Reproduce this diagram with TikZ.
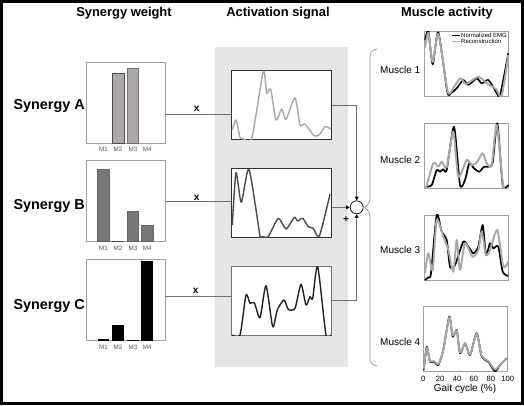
\documentclass[tikz,border=0pt]{standalone}
\usepackage{fontspec}
\setmainfont{Liberation Sans}
\usetikzlibrary{arrows.meta}
\definecolor{panel}{HTML}{E6E6E6}
\definecolor{barA}{HTML}{ADA8A8}
\definecolor{barB}{HTML}{777777}
\definecolor{boxG}{HTML}{A0A0A0}
\definecolor{connG}{HTML}{707070}
\definecolor{recon}{HTML}{A8A8A8}
\definecolor{actA}{HTML}{A8A8A8}
\definecolor{actB}{HTML}{4A4A4A}
\definecolor{actC}{HTML}{222222}
\definecolor{lblG}{HTML}{555555}
\begin{document}
\begin{tikzpicture}[x=1pt,y=-1pt,
  title/.style={font=\bfseries\fontsize{12.9}{14}\selectfont},
  synlabel/.style={font=\bfseries\fontsize{14.4}{16}\selectfont, anchor=west},
  wbox/.style={draw=boxG, line width=0.8pt, fill=white, minimum width=79pt, minimum height=81pt, inner sep=0pt},
  abox/.style={draw=#1, line width=0.9pt, fill=white, minimum width=100pt, minimum height=69pt, inner sep=0pt},
  mbox/.style={draw=boxG, line width=0.8pt, fill=white, minimum width=84pt, minimum height=65pt, inner sep=0pt},
  mlabel/.style={font=\fontsize{6.3}{7}\selectfont, text=lblG, inner sep=0pt},
  musname/.style={font=\fontsize{10}{12}\selectfont, anchor=west, inner sep=0pt},
  conn/.style={draw=connG, line width=0.7pt},
  arr/.style={conn, -{Triangle[length=3.8pt,width=3.8pt,color=black]}},
  bar/.style={line width=0.7pt},
  timesl/.style={font=\bfseries\fontsize{10}{12}\selectfont, inner sep=0pt},
  emg/.style={line width=1.7pt, black, line join=round},
  rec/.style={line width=1.9pt, recon, line join=round},
  act/.style={line width=1.4pt, line join=round, #1},
  tick/.style={font=\fontsize{7.6}{9}\selectfont, inner sep=0pt}
]
\useasboundingbox (0,0) rectangle (524,405);
\fill[white] (0,0) rectangle (524,405);
\draw[line width=3pt] (1.5,1.5) rectangle (522.5,403.5);

% titles
\node[title] (t1) at (124,13) {Synergy weight};
\node[title] (t2) at (278,13) {Activation signal};
\node[title] (t3) at (447,13) {Muscle activity};

% synergy labels
\node[synlabel] (sA) at (10,105.7) {Synergy A};
\node[synlabel] (sB) at (10,205.7) {Synergy B};
\node[synlabel] (sC) at (10,305.7) {Synergy C};

% weight boxes
\node[wbox] (wA) at (125.5,102.5) {};
\node[wbox] (wB) at (125.5,201.3) {};
\node[wbox] (wC) at (125.5,300.3) {};

% bars A
\filldraw[bar, fill=barA, draw=black!70] (112,143) rectangle (124,73.3);
\filldraw[bar, fill=barA, draw=black!55] (127,143) rectangle (138.7,68.3);
% bars B
\filldraw[bar, fill=barB, draw=black!60] (97.7,241.7) rectangle (109.3,169);
\draw[bar, draw=black!70] (112,241.2) -- (124,241.2);
\filldraw[bar, fill=barB, draw=black!60] (127,241.7) rectangle (138.7,211);
\filldraw[bar, fill=barB, draw=black!60] (141.3,241.7) rectangle (153.3,225.7);
% bars C
\fill[black] (97.7,340.7) rectangle (109.3,338.8);
\fill[black] (112,340.7) rectangle (124.3,325.3);
\draw[bar, black] (127,340.3) -- (138.7,340.3);
\fill[black] (141.3,340.7) rectangle (153.3,261);

% M labels
\foreach \yy/\n in {149/a,248.3/b,347.7/c}{
  \node[mlabel] (m1\n) at (103.5,\yy) {M1};
  \node[mlabel] (m2\n) at (118,\yy) {M2};
  \node[mlabel] (m3\n) at (133,\yy) {M3};
  \node[mlabel] (m4\n) at (147.3,\yy) {M4};
}

% activation panel
\fill[panel] (215,47.3) rectangle (348.3,366.7);
\node[abox=black!80] (aA) at (281.7,105) {};
\node[abox=black!80] (aB) at (281.7,202.8) {};
\node[abox=black!55] (aC) at (281.7,300.7) {};

% activation curves
\begin{scope}
\clip (aA.south west) rectangle (aA.north east);
\draw[act=actA] plot[smooth, tension=0.4] coordinates {(232.3,130) (236,120) (240,137.3) (243,138.5) (251.7,138.5) (263.3,71.7) (266.7,93.3) (270.7,89.3) (276,120) (281.7,109) (286,119.3) (295,97.7) (300,125) (305,124) (314.3,136) (320,134) (325,126.7) (331,129)};
\end{scope}
\begin{scope}
\clip (aB.south west) rectangle (aB.north east);
\draw[act=actB] plot[smooth, tension=0.4] coordinates {(232.3,225) (236,172.7) (241.3,202.3) (249,169.3) (260,236) (262,236.5) (268.3,236.5) (278.3,218.3) (286,229) (294.3,217.3) (297.7,221) (302.7,218.3) (308.3,226.7) (313.3,228.3) (319.3,236) (330,194.3)};
\end{scope}
\begin{scope}
\clip (aC.south west) rectangle (aC.north east);
\draw[act=actC] plot[smooth, tension=0.4] coordinates {(232.3,335) (240,335) (246,295) (250,303.3) (254.3,302.7) (260,317.7) (266,285.7) (272.7,326.7) (277.3,310) (284,300) (288.3,309.3) (295,308.3) (301,284.3) (306,305) (310,296.7) (312.7,298.3) (317.7,266.7) (326,335) (331,335)};
\end{scope}

% connectors weight -> activation
\draw[conn] (wA.east |- 0,114) -- (aA.west |- 0,114);
\draw[conn] (wB.east |- 0,201.7) -- (aB.west |- 0,201.7);
\draw[conn] (wC.east |- 0,296) -- (aC.west |- 0,296);
\node[timesl] (xA) at (196.7,109) {x};
\node[timesl] (xB) at (196.7,197.7) {x};
\node[timesl] (xC) at (195.7,290.7) {x};

% summation
\node[draw=black, line width=0.7pt, fill=white, circle, minimum size=13pt, inner sep=0pt] (sum) at (356.7,207.3) {};
\coordinate (kA) at (356.7,105.3);
\coordinate (kC) at (356.7,300.7);
\draw[conn] (aA.east |- kA) -- (kA);
\draw[arr] (kA) -- (sum.north);
\draw[conn] (aC.east |- kC) -- (kC);
\draw[arr] (kC) -- (sum.south);
\draw[arr] (aB.east |- sum.west) -- (sum.west);
\node[font=\bfseries\fontsize{10}{12}\selectfont, inner sep=0pt] (plus) at (346,219.5) {+};

% brace
\draw[boxG, line width=0.8pt] (377,49) .. controls (371,50) and (370,53) .. (370,58) -- (370,198) .. controls (370,204) and (366,207) .. (sum.east);
\draw[boxG, line width=0.8pt] (sum.east) .. controls (366,208) and (370,211) .. (370,217) -- (370,357) .. controls (370,362) and (371,365) .. (377,366);

% muscle names
\node[musname] (n1) at (380,70) {Muscle 1};
\node[musname] (n2) at (380,160) {Muscle 2};
\node[musname] (n3) at (380,250) {Muscle 3};
\node[musname] (n4) at (380,341.7) {Muscle 4};

% muscle boxes
\node[mbox] (p1) at (466.7,64.2) {};
\node[mbox] (p2) at (466.7,155.7) {};
\node[mbox] (p3) at (466.7,247.8) {};
\node[mbox] (p4) at (465.5,338.8) {};

% muscle 1
\begin{scope}
\clip (p1.south west) rectangle (p1.north east);
\draw[emg] plot[smooth, tension=0.4] coordinates {(425,40) (428.3,31) (432.7,64.3) (438.3,32.3) (447.3,91.7) (451,93) (456.7,88.3) (463.3,80) (468.3,85) (476.7,78.3) (481.7,83.3) (488.3,80) (495,90) (500,95) (508.3,53.3)};
\draw[rec] plot[smooth, tension=0.4] coordinates {(425,48) (428.3,33) (432.7,62) (438.3,34) (447,88) (450,93.3) (460,78.3) (466,84) (478.3,76.7) (486,83) (496,89) (501.7,96) (508.3,55)};
\end{scope}
% legend
\draw[black, line width=1.4pt] (452,35.7) -- (460,35.7);
\draw[recon, line width=1.4pt] (452,41.7) -- (460,41.7);
\node[font=\fontsize{6}{7}\selectfont, anchor=west, inner sep=0pt] (lg1) at (461,35.7) {Normalized EMG};
\node[font=\fontsize{6}{7}\selectfont, anchor=west, inner sep=0pt] (lg2) at (461,41.7) {Reconstruction};

% muscle 2
\begin{scope}
\clip (p2.south west) rectangle (p2.north east);
\draw[emg] plot[smooth, tension=0.4] coordinates {(426,186.7) (431.7,185) (436.7,170) (440,171.7) (443.3,169.3) (446.7,170) (454,126.7) (460,185) (465,180) (469.3,163.3) (474,168.3) (479.3,171.7) (484,166.7) (488.3,166.7) (492.7,162.7) (497.3,123.3) (502.7,185) (508.3,185)};
\draw[rec] plot[smooth, tension=0.4] coordinates {(426,188) (433.3,163.3) (438.3,166.7) (441.7,161.7) (446.7,167.3) (453.3,131.7) (458.3,176.7) (466.7,160) (471.7,165) (476.7,162.7) (482.7,153.3) (486.7,163.3) (491.7,165) (496.7,125) (503.3,186.7) (508.3,187.3)};
\end{scope}

% muscle 3
\begin{scope}
\clip (p3.south west) rectangle (p3.north east);
\draw[emg] plot[smooth, tension=0.4] coordinates {(425,280) (428.3,277.3) (431,273.3) (436.7,215) (441.7,231.7) (446.7,240) (450,266.7) (455,265) (463.3,241.7) (468.3,246.7) (473.3,253.3) (478.3,246.7) (482.7,225) (486,255) (490,243.3) (493.3,248.3) (498.3,246.7) (502.7,271.7) (508.3,276)};
\draw[rec] plot[smooth, tension=0.4] coordinates {(425,273.3) (428.3,253.3) (432.7,270) (436.7,220) (443.3,236.7) (448.3,250) (453.3,271.7) (456.7,240) (460,270) (465,243.3) (472.7,256.7) (478.3,250) (481.7,231.7) (486,255) (490,250) (497.3,230) (503.3,266.7) (508.3,261.7)};
\end{scope}

% muscle 4
\begin{scope}
\clip (p4.south west) rectangle (p4.north east);
\draw[emg] plot[smooth, tension=0.4] coordinates {(423.8,370) (426.7,346.7) (430,361.7) (434,361.7) (438.3,365) (443.3,350) (449.3,316.7) (452.7,336.7) (456.7,330) (460,353.3) (465,343.3) (470,355) (476.7,333.3) (481.7,356.7) (488.3,361.7) (495,371.2) (500,365) (506.7,358.3)};
\draw[rec] plot[smooth, tension=0.4] coordinates {(423.8,369) (426.7,347.5) (430,361) (434,361) (438.3,364) (443.3,350) (449.3,317.5) (452.7,335.5) (456.7,330.5) (460,352.5) (465,343.5) (470,354.5) (476.7,334) (481.7,356) (488.3,361) (495,369.5) (500,364.5) (506.7,358.5)};
\end{scope}

% ticks
\foreach \k in {0,1,2,3,4,5}{
  \pgfmathtruncatemacro{\lab}{20*\k}
  \node[tick] (tk\k) at ({423.3+16.88*\k},379.3) {\lab};
}
\node[font=\fontsize{10}{12}\selectfont, inner sep=0pt] (gait) at (465,389.3) {Gait cycle (\%)};
\end{tikzpicture}
\end{document}
